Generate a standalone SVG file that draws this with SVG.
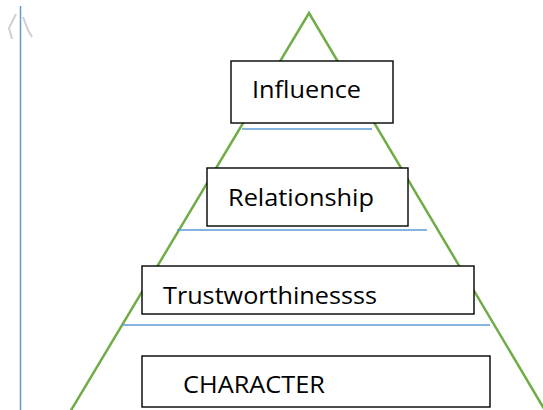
<svg xmlns="http://www.w3.org/2000/svg" width="543" height="410" viewBox="0 0 543 410">
<style>
.box{fill:#fff;stroke:#000;stroke-width:1.4}
.lbl{font-family:"Open Sans","Liberation Sans",Arial,sans-serif;font-size:24.5px;fill:#000}
.tri{fill:none;stroke:#70AD47;stroke-width:2.5}
.sep{stroke:#5B9BD5;stroke-width:1.3}
.axis{stroke:#5B9BD5;stroke-width:1.5}
</style>
<rect width="543" height="410" fill="#fff"/>
<g id="connectors">
<line class="axis" x1="20.5" y1="6" x2="20.5" y2="410"/>
<path d="M16,14 L9,28 L12,39 M23,17 L28,30 L32,37" fill="none" stroke="#d0d0d0" stroke-width="2"/>
<polyline class="tri" points="70,412 309,13 546,412"/>
<line class="sep" x1="242" y1="129" x2="372" y2="129"/>
<line class="sep" x1="177" y1="230" x2="427" y2="230"/>
<line class="sep" x1="122" y1="325" x2="490" y2="325"/>
</g>
<g id="influence">
<rect class="box" x="231" y="61" width="162" height="62"/>
<text class="lbl" x="252" y="98" textLength="109" lengthAdjust="spacingAndGlyphs">Influence</text>
</g>
<g id="relationship">
<rect class="box" x="207" y="168" width="201" height="58"/>
<text class="lbl" x="228" y="206" textLength="146" lengthAdjust="spacingAndGlyphs">Relationship</text>
</g>
<g id="trustworthiness">
<rect class="box" x="142" y="266" width="332" height="48"/>
<text class="lbl" x="163" y="304" textLength="214" lengthAdjust="spacingAndGlyphs">Trustworthinessss</text>
</g>
<g id="character">
<rect class="box" x="142" y="356" width="348" height="51"/>
<text class="lbl" x="183" y="393" textLength="142" lengthAdjust="spacingAndGlyphs">CHARACTER</text>
</g>
</svg>
